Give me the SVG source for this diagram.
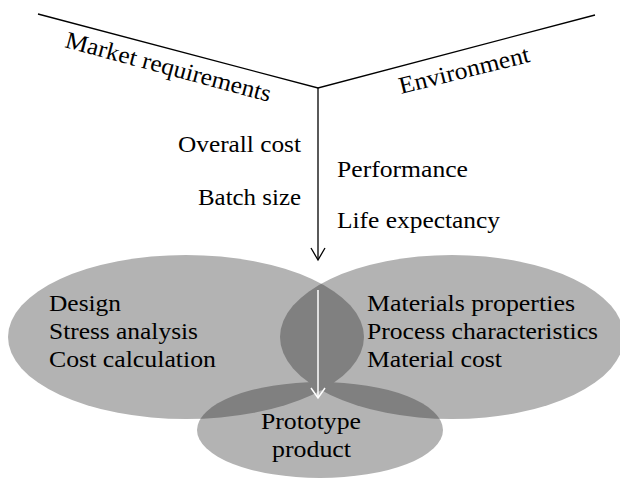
<svg xmlns="http://www.w3.org/2000/svg" width="620" height="478" viewBox="0 0 620 478">
<style>
text { font-family: "Liberation Serif", "Times New Roman", serif; font-size: 24px; fill: #000; }
.light { fill: #b3b3b3; }
.dark { fill: #808080; }
.ln { stroke: #000; stroke-width: 1.3; fill: none; }
.wl { stroke: #fff; stroke-width: 1.5; fill: none; }
</style>
<defs>
<clipPath id="clipL"><ellipse cx="186" cy="337" rx="178" ry="82"/></clipPath>
<clipPath id="clipR"><ellipse cx="452" cy="337" rx="172" ry="82"/></clipPath>
</defs>
<rect width="620" height="478" fill="#fff"/>
<g id="ellipse-left"><ellipse class="light" cx="186" cy="337" rx="178" ry="82"/></g>
<g id="ellipse-right"><ellipse class="light" cx="452" cy="337" rx="172" ry="82"/></g>
<g id="ellipse-bottom"><ellipse class="light" cx="320" cy="430" rx="123" ry="48"/></g>
<g id="overlaps">
<ellipse class="dark" cx="452" cy="337" rx="172" ry="82" clip-path="url(#clipL)"/>
<ellipse class="dark" cx="320" cy="430" rx="123" ry="48" clip-path="url(#clipL)"/>
<ellipse class="dark" cx="320" cy="430" rx="123" ry="48" clip-path="url(#clipR)"/>
</g>
<g id="connectors">
<polyline class="ln" points="38,14 318,88 595,15"/>
<line class="ln" x1="318" y1="88" x2="318" y2="259"/>
<polyline class="ln" points="311,248 318,260 325,248"/>
<line class="wl" x1="318" y1="290" x2="318" y2="397"/>
<polyline class="wl" points="311,388 318,398 325,388"/>
</g>
<g id="market-requirements"><text transform="translate(64,47) rotate(15)" textLength="212" lengthAdjust="spacingAndGlyphs">Market requirements</text></g>
<g id="environment"><text transform="translate(401,94) rotate(-14)" textLength="134" lengthAdjust="spacingAndGlyphs">Environment</text></g>
<g id="market-items">
<text x="178" y="152" textLength="123" lengthAdjust="spacingAndGlyphs">Overall cost</text>
<text x="198" y="205" textLength="103" lengthAdjust="spacingAndGlyphs">Batch size</text>
</g>
<g id="environment-items">
<text x="337" y="177" textLength="131" lengthAdjust="spacingAndGlyphs">Performance</text>
<text x="337" y="228" textLength="163" lengthAdjust="spacingAndGlyphs">Life expectancy</text>
</g>
<g id="design-items">
<text x="49" y="311" textLength="72" lengthAdjust="spacingAndGlyphs">Design</text>
<text x="49" y="339" textLength="149" lengthAdjust="spacingAndGlyphs">Stress analysis</text>
<text x="49" y="367" textLength="167" lengthAdjust="spacingAndGlyphs">Cost calculation</text>
</g>
<g id="materials-items">
<text x="367" y="311" textLength="208" lengthAdjust="spacingAndGlyphs">Materials properties</text>
<text x="367" y="339" textLength="231" lengthAdjust="spacingAndGlyphs">Process characteristics</text>
<text x="367" y="367" textLength="135" lengthAdjust="spacingAndGlyphs">Material cost</text>
</g>
<g id="prototype">
<text x="261" y="429" textLength="100" lengthAdjust="spacingAndGlyphs">Prototype</text>
<text x="272" y="457" textLength="79" lengthAdjust="spacingAndGlyphs">product</text>
</g>
</svg>
